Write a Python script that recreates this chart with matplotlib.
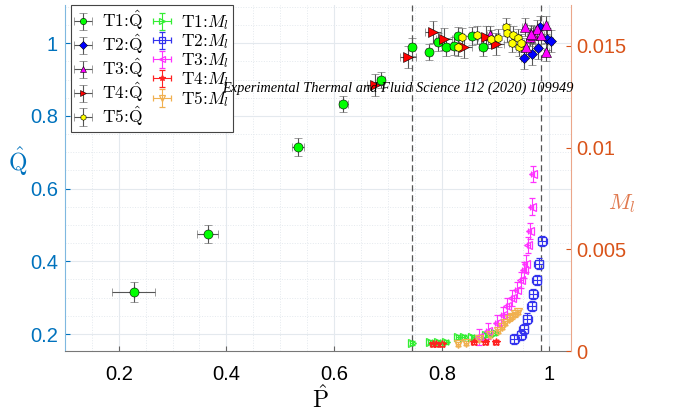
import matplotlib
matplotlib.use('Agg')
import matplotlib.pyplot as plt
from matplotlib.ticker import MultipleLocator, FixedLocator

plt.rcParams['mathtext.fontset'] = 'cm'
plt.rcParams['font.family'] = ['Liberation Sans', 'DejaVu Sans']

# ---------------- data: Q-hat vs P-hat (left axis) ----------------
t1_p = [0.228, 0.365, 0.533, 0.617, 0.687, 0.745, 0.776, 0.793, 0.807, 0.831, 0.857, 0.876, 0.823]
t1_q = [0.316, 0.475, 0.714, 0.832, 0.900, 0.989, 0.975, 1.003, 0.989, 1.020, 1.020, 0.989, 0.992]
t1_px = [0.040, 0.020, 0.012, 0.008, 0.008, 0.006, 0.006, 0.006, 0.006, 0.006, 0.006, 0.006, 0.006]
t1_qy = [0.028, 0.026, 0.025, 0.022, 0.022, 0.025, 0.022, 0.025, 0.025, 0.025, 0.025, 0.025, 0.025]

t2_p = [0.952, 0.967, 0.978, 0.983, 0.996, 1.002]
t2_q = [0.959, 0.970, 0.986, 1.044, 1.011, 1.005]

t3_p = [0.889, 0.954, 0.957, 0.963, 0.969, 0.976, 0.985, 0.993, 0.994, 0.965]
t3_q = [1.022, 1.044, 0.989, 1.016, 1.022, 1.040, 1.022, 1.050, 0.975, 1.025]

t4_p = [0.676, 0.737, 0.783, 0.804, 0.841, 0.883, 0.900]
t4_q = [0.885, 0.962, 1.030, 1.011, 0.989, 1.016, 0.998]

t5_p = [0.831, 0.837, 0.865, 0.891, 0.904, 0.919, 0.922, 0.930, 0.933, 0.941, 0.943, 0.948]
t5_q = [0.989, 1.016, 1.022, 1.011, 1.014, 1.044, 1.027, 1.000, 1.022, 1.014, 0.989, 1.000]

# ---------------- data: M_l vs P-hat (right axis) ----------------
m1_p = [0.744, 0.778, 0.793, 0.808, 0.830, 0.841, 0.857, 0.883, 0.898]
m1_m = [0.00039, 0.00044, 0.00044, 0.00044, 0.00069, 0.00069, 0.00069, 0.00078, 0.00088]

m2_p = [0.935, 0.948, 0.952, 0.959, 0.967, 0.970, 0.976, 0.980, 0.987]
m2_m = [0.00059, 0.00078, 0.0011, 0.0016, 0.0022, 0.0028, 0.0035, 0.0043, 0.0054]

m3_p = [0.870, 0.885, 0.902, 0.913, 0.922, 0.931, 0.939, 0.948, 0.952, 0.956, 0.961, 0.963, 0.967, 0.969]
m3_m = [0.00070, 0.0010, 0.00137, 0.00176, 0.0022, 0.0026, 0.0030, 0.0035, 0.0040, 0.0043, 0.0052, 0.0059, 0.0071, 0.0087]

m4_p = [0.783, 0.790, 0.800, 0.859, 0.881, 0.900]
m4_m = [0.00034, 0.00034, 0.00034, 0.00044, 0.00044, 0.00044]

m5_p = [0.830, 0.845, 0.870, 0.890, 0.905, 0.912, 0.918, 0.924, 0.930, 0.936, 0.942]
m5_m = [0.00034, 0.00040, 0.00060, 0.00080, 0.0010, 0.0012, 0.0014, 0.0016, 0.0017, 0.0018, 0.0019]

dash_p = [0.744, 0.985]

labels_q = ['T%d:' % i + r'$\hat{\mathrm{Q}}$' for i in range(1, 6)]
labels_m = ['T%d:' % i + r'$M_l$' for i in range(1, 6)]

# ---------------- figure ----------------
blue = '#0072BD'
orange = '#D95319'
fig = plt.figure(figsize=(6.83, 4.17), dpi=100)
ax = fig.add_axes([0.095, 0.158, 0.741, 0.83])
ax2 = ax.twinx()

ax.set_xlim(0.1, 1.04)
ax.set_ylim(0.153, 1.105)
ax2.set_ylim(0, 0.017)

ax.xaxis.set_major_locator(FixedLocator([0.2, 0.4, 0.6, 0.8, 1.0]))
ax.xaxis.set_minor_locator(MultipleLocator(0.05))
ax.yaxis.set_major_locator(FixedLocator([0.2, 0.4, 0.6, 0.8, 1.0]))
ax.yaxis.set_minor_locator(MultipleLocator(0.05))
ax.set_xticklabels(['0.2', '0.4', '0.6', '0.8', '1'])
ax.set_yticklabels(['0.2', '0.4', '0.6', '0.8', '1'])
ax2.yaxis.set_major_locator(FixedLocator([0, 0.005, 0.01, 0.015]))
ax2.set_yticklabels(['0', '0.005', '0.01', '0.015'])

ax.grid(True, which='major', color='#e4e9ee', lw=0.8, ls='-')
ax.grid(True, which='minor', color='#e4e9ee', lw=0.7, ls=':')
ax.set_axisbelow(True)

ax.tick_params(axis='both', which='both', direction='in', labelsize=14.5)
ax.tick_params(axis='x', which='minor', length=0)
ax.tick_params(axis='y', which='minor', length=0)
ax.tick_params(axis='y', colors=blue, pad=5)
ax.tick_params(axis='x', colors='#666666', labelcolor='black', pad=10)
ax2.tick_params(axis='y', direction='in', labelsize=14.5, colors=orange, pad=4)

for s in ['top', 'right']:
    ax.spines[s].set_visible(False)
for s in ['top', 'left', 'bottom']:
    ax2.spines[s].set_visible(False)
ax.spines['left'].set_color('#7fb8e0')
ax.spines['bottom'].set_color('#777777')
ax2.spines['right'].set_color('#eba68a')

for xp in dash_p:
    ax.axvline(xp, color='#555555', ls=(0, (5, 3)), lw=0.9, zorder=1)

ek = dict(ecolor='#555555', elinewidth=0.8, capsize=3, capthick=0.8, mec='k', mew=0.4, ls='none')
h = []
h.append(ax.errorbar(t1_p, t1_q, xerr=t1_px, yerr=t1_qy, fmt='o', mfc='#00ff00', ms=6.5, **ek))
h.append(ax.errorbar(t2_p, t2_q, xerr=0.005, yerr=0.03, fmt='D', mfc='#0000ff', ms=5.5, **ek))
h.append(ax.errorbar(t3_p, t3_q, xerr=0.005, yerr=0.025, fmt='^', mfc='#ff00ff', ms=6.5, **ek))
h.append(ax.errorbar(t4_p, t4_q, xerr=0.015, yerr=0.03, fmt='>', mfc='#ff0000', ms=7, **ek))
h.append(ax.errorbar(t5_p, t5_q, xerr=0.005, yerr=0.025, fmt='h', mfc='#ffff00', ms=6, **ek))

def mser(p, m, mk, col, xe, ye):
    return ax2.errorbar(p, m, xerr=xe, yerr=ye, fmt=mk, mfc='none', mec=col, ecolor=col,
                        ms=6, mew=0.9, elinewidth=0.8, capsize=2.5, capthick=0.8, ls='none')

h.append(mser(m1_p, m1_m, '>', '#33ee33', 0.003, 0.0001))
h.append(mser(m2_p, m2_m, 's', '#3333ee', 0.008, 0.00025))
h.append(mser(m3_p, m3_m, '<', '#ff33ff', 0.003, 0.0004))
h.append(mser(m4_p, m4_m, '*', '#ff2222', 0.005, 0.0001))
h.append(mser(m5_p, m5_m, 'v', '#f0b050', 0.003, 0.0001))

leg = ax2.legend(h, labels_q + labels_m, ncol=2, loc='upper left', bbox_to_anchor=(0.012, 1.0),
                 prop={'family': 'cmr10', 'size': 12.5}, frameon=True, fancybox=False,
                 edgecolor='#444444', framealpha=1,
                 handlelength=1.0, handletextpad=0.6, columnspacing=0.6, labelspacing=0.0,
                 borderpad=0.2, borderaxespad=0.0, markerscale=0.7)
leg.get_frame().set_linewidth(0.8)
leg.set_zorder(10)

ax.set_xlabel(r'$\mathrm{\hat{P}}$', fontsize=17)
ax.xaxis.set_label_coords(0.504, -0.098)
ax.set_ylabel(r'$\mathrm{\hat{Q}}$', fontsize=17, color=blue, rotation=0)
ax.yaxis.set_label_coords(-0.093, 0.5)
ax2.set_ylabel(r'$M_l$', fontsize=16, color='#e07a50', rotation=0)
ax2.yaxis.set_label_coords(1.10, 0.46)

fig.text(0.325, 0.789, 'Experimental Thermal and Fluid Science 112 (2020) 109949',
         family='Liberation Serif', style='italic', fontsize=10.4, ha='left', va='center', zorder=20)

fig.savefig('out.png', dpi=100)
